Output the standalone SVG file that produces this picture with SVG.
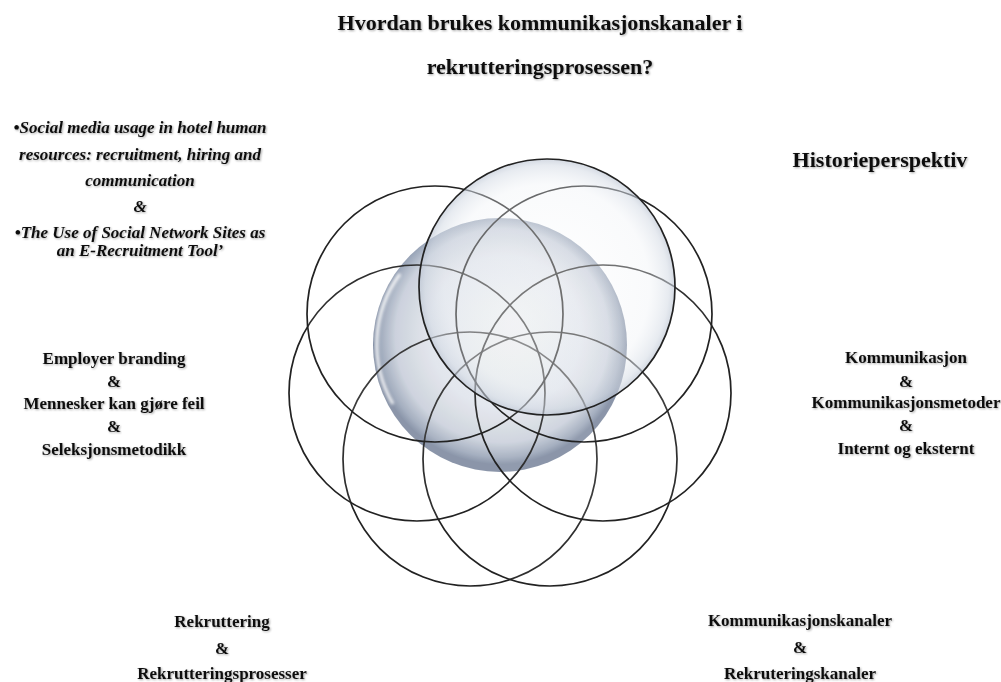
<svg xmlns="http://www.w3.org/2000/svg" width="1001" height="682" viewBox="0 0 1001 682">
  <style>
    .t { font-family: "Liberation Serif", "Times New Roman", serif; font-weight: bold; fill: #111; text-anchor: middle; filter: url(#soft); }
    .title { font-size: 22px; }
    .head { font-size: 22px; }
    .body { font-size: 17px; }
    .ital { font-size: 17px; font-style: italic; }
    .ring { fill: #ffffff; fill-opacity: 0.06; stroke: #222; stroke-width: 1.7; }
  </style>
  <defs>
    <filter id="soft" x="-5%" y="-30%" width="110%" height="160%">
      <feGaussianBlur in="SourceAlpha" stdDeviation="1.2" result="b"/>
      <feOffset dx="0.6" dy="0.8" in="b" result="o"/>
      <feComponentTransfer in="o" result="s"><feFuncA type="linear" slope="0.35"/></feComponentTransfer>
      <feMerge><feMergeNode in="s"/><feMergeNode in="SourceGraphic"/></feMerge>
    </filter>
    <radialGradient id="sphereGrad" cx="0.5" cy="0.47" r="0.5" fx="0.55" fy="0.42">
      <stop offset="0" stop-color="#eceff3"/>
      <stop offset="0.6" stop-color="#dfe3ea"/>
      <stop offset="0.84" stop-color="#c6cdd9"/>
      <stop offset="0.95" stop-color="#95a1b5"/>
      <stop offset="1" stop-color="#75829a"/>
    </radialGradient>
    <radialGradient id="glassGrad" cx="0.5" cy="0.5" r="0.5">
      <stop offset="0" stop-color="#ffffff" stop-opacity="0.3"/>
      <stop offset="0.8" stop-color="#eef1f5" stop-opacity="0.35"/>
      <stop offset="0.95" stop-color="#d3dae4" stop-opacity="0.55"/>
      <stop offset="1" stop-color="#bcc5d3" stop-opacity="0.65"/>
    </radialGradient>
    <filter id="blur2"><feGaussianBlur stdDeviation="1.5"/></filter>
  </defs>

  <rect width="1001" height="682" fill="#ffffff"/>

  <g id="sphere">
    <circle cx="500" cy="345" r="127" fill="url(#sphereGrad)"/>
    <path d="M 393 404 A 118 118 0 0 1 400 274" fill="none" stroke="#ffffff" stroke-width="3" stroke-opacity="0.9" filter="url(#blur2)"/>
  </g>

  <g id="circle-lower-left"><circle class="ring" cx="470" cy="459" r="127"/></g>
  <g id="circle-lower-right"><circle class="ring" cx="550" cy="459" r="127"/></g>
  <g id="circle-left"><circle class="ring" cx="417" cy="393" r="128"/></g>
  <g id="circle-right"><circle class="ring" cx="603" cy="393" r="128"/></g>
  <g id="circle-upper-left"><circle class="ring" cx="435" cy="314" r="128"/></g>
  <g id="circle-upper-right"><circle class="ring" cx="584" cy="314" r="128"/></g>
  <g id="circle-top"><circle cx="547" cy="287" r="128" fill="url(#glassGrad)" stroke="#222" stroke-width="1.7"/></g>

  <g id="connectors"/>

  <g id="title">
    <text class="t title" x="540" y="30">Hvordan brukes kommunikasjonskanaler i</text>
    <text class="t title" x="540" y="74">rekrutteringsprosessen?</text>
  </g>

  <g id="articles">
    <text class="t ital" x="140" y="133">•Social media usage in hotel human</text>
    <text class="t ital" x="140" y="160">resources: recruitment, hiring and</text>
    <text class="t ital" x="140" y="186">communication</text>
    <text class="t ital" x="140" y="212">&amp;</text>
    <text class="t ital" x="140" y="238">•The Use of Social Network Sites as</text>
    <text class="t ital" x="140" y="256">an E-Recruitment Tool’</text>
  </g>

  <g id="historie">
    <text class="t head" x="880" y="167">Historieperspektiv</text>
  </g>

  <g id="employer">
    <text class="t body" x="114" y="364">Employer branding</text>
    <text class="t body" x="114" y="387">&amp;</text>
    <text class="t body" x="114" y="409">Mennesker kan gjøre feil</text>
    <text class="t body" x="114" y="432">&amp;</text>
    <text class="t body" x="114" y="455">Seleksjonsmetodikk</text>
  </g>

  <g id="kommunikasjon">
    <text class="t body" x="906" y="363">Kommunikasjon</text>
    <text class="t body" x="906" y="387">&amp;</text>
    <text class="t body" x="906" y="408">Kommunikasjonsmetoder</text>
    <text class="t body" x="906" y="431">&amp;</text>
    <text class="t body" x="906" y="454">Internt og eksternt</text>
  </g>

  <g id="rekruttering">
    <text class="t body" x="222" y="627">Rekruttering</text>
    <text class="t body" x="222" y="654">&amp;</text>
    <text class="t body" x="222" y="679">Rekrutteringsprosesser</text>
  </g>

  <g id="kanaler">
    <text class="t body" x="800" y="626">Kommunikasjonskanaler</text>
    <text class="t body" x="800" y="653">&amp;</text>
    <text class="t body" x="800" y="679">Rekruteringskanaler</text>
  </g>
</svg>
